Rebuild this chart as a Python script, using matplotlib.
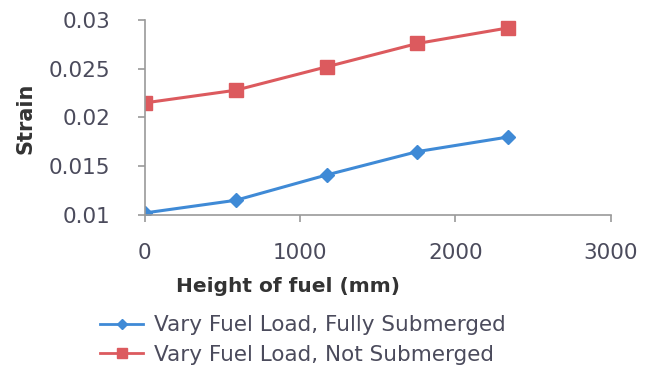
import matplotlib.pyplot as plt
from matplotlib.lines import Line2D

# fuel height (mm) and measured strain for both cases
height = [0, 585, 1170, 1755, 2340]
strain_submerged = [0.0102, 0.0115, 0.0141, 0.0165, 0.0180]
strain_not_submerged = [0.0215, 0.0228, 0.0252, 0.0276, 0.0292]

labels = ["Vary Fuel Load, Fully Submerged", "Vary Fuel Load, Not Submerged"]
blue = "#3f8ad6"
red = "#dc5a5e"
text_col = "#4b4b5c"

plt.rcParams["font.family"] = ["DejaVu Sans"]

fig = plt.figure(figsize=(6.47, 3.79), dpi=100)
ax = fig.add_axes([0.224, 0.433, 0.72, 0.514])

ax.plot(height, strain_submerged, color=blue, lw=2.2, marker="D", ms=7,
        markeredgecolor=blue)
ax.plot(height, strain_not_submerged, color=red, lw=2.2, marker="s", ms=10.5,
        markeredgecolor=red)

ax.set_xlim(0, 3000)
ax.set_ylim(0.01, 0.03)
ax.set_xticks([0, 1000, 2000, 3000])
ax.set_yticks([0.01, 0.015, 0.02, 0.025, 0.03])
ax.set_yticklabels(["0.01", "0.015", "0.02", "0.025", "0.03"])

for s in ["top", "right"]:
    ax.spines[s].set_visible(False)
for s in ["left", "bottom"]:
    ax.spines[s].set_color("#9a9a9a")
    ax.spines[s].set_linewidth(1.2)
ax.tick_params(colors="#9a9a9a", labelcolor=text_col, labelsize=15.5, length=5,
               width=1.2)
ax.tick_params(axis="x", pad=15)
ax.tick_params(axis="y", pad=20)

fig.text(0.039, 0.689, "Strain", rotation=90, fontsize=15, fontweight="bold",
         color="#333333", ha="center", va="center")
fig.text(0.445, 0.245, "Height of fuel (mm)", fontsize=14.5, fontweight="bold",
         color="#333333", ha="center", va="center")

handles = [
    Line2D([], [], color=blue, lw=2, marker="D", ms=5),
    Line2D([], [], color=red, lw=2, marker="s", ms=7),
]
fig.legend(handles, labels, loc="upper left", bbox_to_anchor=(0.155, 0.168),
           frameon=False, fontsize=15.5, handlelength=2.0, handletextpad=0.5,
           labelspacing=0.45, borderpad=0, borderaxespad=0, labelcolor=text_col)

fig.savefig("out.png", dpi=100)
